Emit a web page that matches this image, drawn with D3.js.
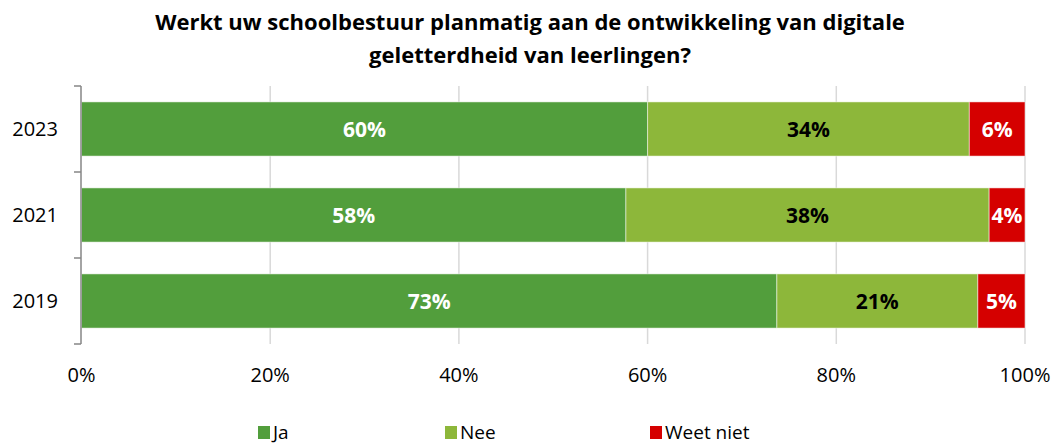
<!DOCTYPE html>
<html>
<head>
<meta charset="utf-8">
<script src="https://cdn.jsdelivr.net/npm/d3@7"></script>
<style>
  body { margin: 0; background: #fff; }
  text { font-family: "Open Sans", sans-serif; }
</style>
</head>
<body>
<div id="chart"></div>
<script>
const years = ["2023", "2021", "2019"];
const ja = [60.0, 57.7, 73.7];
const nee = [34.1, 38.5, 21.3];
const weetNiet = [5.9, 3.8, 5.0];
const jaLabels = ["60%", "58%", "73%"];
const neeLabels = ["34%", "38%", "21%"];
const weetNietLabels = ["6%", "4%", "5%"];
const seriesNames = ["Ja", "Nee", "Weet niet"];
const xTicks = [0, 20, 40, 60, 80, 100];
const titleLines = ["Werkt uw schoolbestuur planmatig aan de ontwikkeling van digitale",
                    "geletterdheid van leerlingen?"];

const width = 1058;
const height = 445;
const colors = ["#529e3c", "#8db73a", "#d50000"];
const labelColors = ["#fff", "#000", "#fff"];

const svg = d3.select("#chart")
    .append("svg")
    .attr("width", width)
    .attr("height", height);

const x = d3.scaleLinear().domain([0, 100]).range([81.5, 1025]);
const y = d3.scaleBand().domain(years).range([86, 344]).paddingInner(0.37).paddingOuter(0.185);

// title
svg.append("g").selectAll("text")
    .data(titleLines)
    .enter()
    .append("text")
    .attr("x", 530)
    .attr("y", (d, i) => 30 + i * 33)
    .attr("text-anchor", "middle")
    .attr("font-size", 22)
    .attr("font-weight", "bold")
    .text(d => d);

// gridlines
svg.append("g").selectAll("line")
    .data(xTicks.slice(1))
    .enter()
    .append("line")
    .attr("x1", d => x(d))
    .attr("x2", d => x(d))
    .attr("y1", 86)
    .attr("y2", 344)
    .attr("stroke", "#d9d9d9")
    .attr("stroke-width", 1.5);

// stacked data
const rows = years.map((yr, i) => {
    const vals = [ja[i], nee[i], weetNiet[i]];
    const labels = [jaLabels[i], neeLabels[i], weetNietLabels[i]];
    let start = 0;
    return vals.map((v, k) => {
        const seg = { year: yr, k: k, x0: start, x1: start + v, label: labels[k] };
        start += v;
        return seg;
    });
}).flat();

svg.append("g").selectAll("rect")
    .data(rows)
    .enter()
    .append("rect")
    .attr("x", d => x(d.x0))
    .attr("y", d => y(d.year))
    .attr("width", d => x(d.x1) - x(d.x0))
    .attr("height", y.bandwidth())
    .attr("fill", d => colors[d.k])
    .attr("stroke", "#fff")
    .attr("stroke-opacity", 0.5)
    .attr("stroke-width", 1);

svg.append("g").selectAll("text")
    .data(rows)
    .enter()
    .append("text")
    .attr("x", d => x((d.x0 + d.x1) / 2))
    .attr("y", d => y(d.year) + y.bandwidth() / 2)
    .attr("dy", "0.36em")
    .attr("text-anchor", "middle")
    .attr("font-size", 21)
    .attr("font-weight", "bold")
    .attr("fill", d => labelColors[d.k])
    .text(d => d.label);

// y axis
const yAxis = svg.append("g");
yAxis.append("line")
    .attr("x1", 81).attr("x2", 81)
    .attr("y1", 86).attr("y2", 344)
    .attr("stroke", "#868686").attr("stroke-width", 1.5);
const yTickPos = years.map(yr => y(yr) - y.step() * y.paddingInner() / 2).concat([344]);
yAxis.selectAll("line.tick")
    .data(yTickPos)
    .enter()
    .append("line")
    .attr("class", "tick")
    .attr("x1", 74).attr("x2", 81)
    .attr("y1", d => d).attr("y2", d => d)
    .attr("stroke", "#868686").attr("stroke-width", 1.5);
yAxis.selectAll("text")
    .data(years)
    .enter()
    .append("text")
    .attr("x", 58)
    .attr("y", d => y(d) + y.bandwidth() / 2)
    .attr("dy", "0.36em")
    .attr("text-anchor", "end")
    .attr("font-size", 20)
    .attr("fill", "#000")
    .text(d => d);

// x tick labels
svg.append("g").selectAll("text")
    .data(xTicks)
    .enter()
    .append("text")
    .attr("x", d => x(d))
    .attr("y", 382)
    .attr("text-anchor", "middle")
    .attr("font-size", 20)
    .attr("fill", "#000")
    .text(d => d + "%");

// legend
const legendX = [258, 445, 650];
const legend = svg.append("g").selectAll("g")
    .data(seriesNames)
    .enter()
    .append("g")
    .attr("transform", (d, i) => `translate(${legendX[i]},426)`);
legend.append("rect")
    .attr("width", 12).attr("height", 13)
    .attr("fill", (d, i) => colors[i]);
legend.append("text")
    .attr("x", 15)
    .attr("y", 13)
    .attr("font-size", 19)
    .attr("fill", "#000")
    .text(d => d);
</script>
</body>
</html>
